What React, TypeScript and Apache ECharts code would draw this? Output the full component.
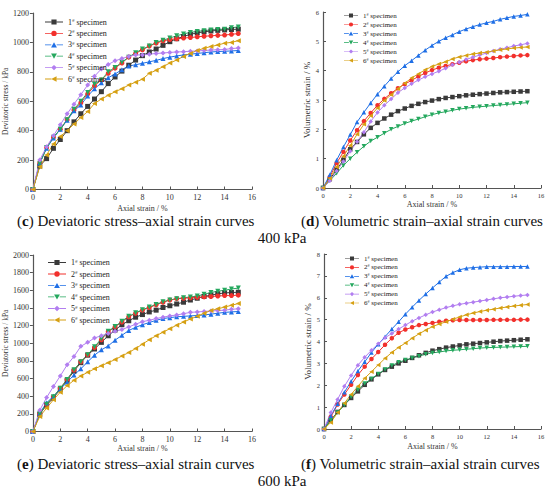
import React, { useEffect, useRef } from "react";
import * as echarts from "echarts";

const strain = [0, 0.5, 1, 1.5, 2, 2.5, 3, 3.5, 4, 4.5, 5, 5.5, 6, 6.5, 7, 7.5, 8, 8.5, 9, 9.5, 10, 10.5, 11, 11.5, 12, 12.5, 13, 13.5, 14, 14.5, 15];

const specimens = ["1# specimen", "2# specimen", "3# specimen", "4# specimen", "5# specimen", "6# specimen"];

// (c) 400 kPa deviatoric stress (kPa)
const dev400_1 = [0, 160, 210, 280, 340, 400, 460, 515, 565, 615, 665, 720, 765, 805, 845, 880, 910, 935, 955, 980, 1005, 1025, 1040, 1055, 1065, 1072, 1078, 1082, 1085, 1088, 1090];
const dev400_2 = [0, 180, 285, 355, 410, 475, 540, 590, 650, 705, 745, 790, 825, 860, 900, 925, 950, 975, 995, 1010, 1020, 1025, 1030, 1033, 1038, 1042, 1045, 1048, 1050, 1055, 1060];
const dev400_3 = [0, 180, 280, 350, 410, 470, 535, 575, 635, 685, 725, 760, 785, 815, 840, 848, 858, 868, 878, 890, 900, 908, 915, 920, 925, 930, 935, 938, 940, 942, 945];
const dev400_4 = [0, 175, 285, 355, 410, 475, 545, 600, 660, 715, 745, 800, 830, 865, 900, 930, 955, 975, 1000, 1015, 1030, 1045, 1058, 1068, 1075, 1080, 1085, 1088, 1090, 1100, 1105];
const dev400_5 = [0, 200, 290, 365, 440, 515, 580, 645, 710, 770, 820, 850, 875, 890, 905, 915, 915, 920, 925, 928, 932, 935, 937, 940, 942, 945, 948, 950, 952, 958, 962];
const dev400_6 = [0, 155, 235, 310, 360, 400, 445, 490, 530, 585, 615, 640, 665, 685, 710, 730, 750, 790, 810, 835, 860, 880, 905, 925, 945, 960, 972, 982, 995, 1000, 1012];

// (d) 400 kPa volumetric strain (%)
const vol400_1 = [0, 0.3, 0.62, 0.96, 1.32, 1.57, 1.83, 2.05, 2.22, 2.37, 2.5, 2.62, 2.71, 2.8, 2.87, 2.93, 2.98, 3.03, 3.07, 3.1, 3.13, 3.16, 3.18, 3.2, 3.22, 3.24, 3.26, 3.27, 3.28, 3.29, 3.3];
const vol400_2 = [0, 0.38, 0.85, 1.23, 1.62, 1.97, 2.28, 2.56, 2.82, 3.04, 3.23, 3.4, 3.54, 3.67, 3.8, 3.92, 4.02, 4.1, 4.16, 4.22, 4.27, 4.32, 4.36, 4.39, 4.41, 4.43, 4.46, 4.48, 4.5, 4.52, 4.53];
const vol400_3 = [0, 0.45, 0.95, 1.4, 1.82, 2.25, 2.58, 2.9, 3.2, 3.47, 3.73, 3.96, 4.17, 4.34, 4.52, 4.7, 4.86, 5.0, 5.12, 5.22, 5.33, 5.42, 5.5, 5.57, 5.63, 5.68, 5.75, 5.8, 5.85, 5.88, 5.92];
const vol400_4 = [0, 0.25, 0.5, 0.77, 1.0, 1.22, 1.42, 1.6, 1.73, 1.87, 2.0, 2.1, 2.2, 2.28, 2.35, 2.43, 2.5, 2.56, 2.6, 2.65, 2.69, 2.72, 2.75, 2.77, 2.79, 2.81, 2.83, 2.85, 2.87, 2.89, 2.91];
const vol400_5 = [0, 0.25, 0.58, 0.9, 1.25, 1.58, 1.9, 2.27, 2.57, 2.82, 3.03, 3.25, 3.41, 3.55, 3.68, 3.79, 3.89, 3.98, 4.08, 4.2, 4.29, 4.38, 4.46, 4.53, 4.6, 4.67, 4.73, 4.78, 4.84, 4.88, 4.93];
const vol400_6 = [0, 0.33, 0.72, 1.08, 1.45, 1.83, 2.17, 2.46, 2.73, 2.98, 3.18, 3.38, 3.57, 3.75, 3.89, 4.03, 4.14, 4.23, 4.3, 4.4, 4.47, 4.52, 4.57, 4.6, 4.63, 4.67, 4.71, 4.74, 4.77, 4.79, 4.81];

// (e) 600 kPa deviatoric stress (kPa)
const dev600_1 = [0, 195, 300, 380, 480, 580, 685, 780, 865, 935, 1010, 1085, 1150, 1210, 1255, 1295, 1325, 1355, 1375, 1405, 1425, 1445, 1465, 1490, 1510, 1530, 1545, 1560, 1570, 1575, 1578];
const dev600_2 = [0, 200, 305, 390, 490, 590, 695, 790, 870, 950, 1040, 1130, 1185, 1240, 1300, 1340, 1375, 1405, 1435, 1465, 1490, 1505, 1510, 1515, 1520, 1525, 1530, 1535, 1540, 1540, 1545];
const dev600_3 = [0, 210, 325, 400, 480, 560, 640, 710, 790, 865, 925, 970, 1035, 1090, 1145, 1180, 1210, 1235, 1260, 1280, 1290, 1300, 1305, 1310, 1315, 1320, 1330, 1340, 1350, 1355, 1360];
const dev600_4 = [0, 200, 310, 395, 490, 590, 700, 790, 870, 960, 1050, 1135, 1190, 1250, 1305, 1345, 1380, 1410, 1440, 1470, 1490, 1505, 1515, 1525, 1535, 1555, 1575, 1590, 1600, 1615, 1625];
const dev600_5 = [0, 240, 385, 510, 630, 755, 850, 965, 1010, 1060, 1085, 1110, 1135, 1155, 1185, 1215, 1245, 1260, 1280, 1295, 1310, 1320, 1335, 1350, 1355, 1360, 1365, 1370, 1375, 1385, 1390];
const dev600_6 = [0, 170, 265, 360, 445, 520, 580, 630, 670, 710, 745, 780, 815, 855, 895, 940, 990, 1040, 1085, 1125, 1165, 1205, 1240, 1275, 1305, 1340, 1370, 1390, 1410, 1430, 1450];

// (f) 600 kPa volumetric strain (%)
const vol600_1 = [0, 0.4, 0.78, 1.1, 1.42, 1.72, 2.02, 2.27, 2.5, 2.7, 2.85, 3.0, 3.12, 3.25, 3.37, 3.48, 3.58, 3.65, 3.72, 3.77, 3.82, 3.87, 3.9, 3.93, 3.96, 3.99, 4.02, 4.04, 4.06, 4.08, 4.1];
const vol600_2 = [0, 0.55, 1.12, 1.58, 2.02, 2.47, 2.85, 3.2, 3.52, 3.85, 4.15, 4.4, 4.55, 4.65, 4.75, 4.8, 4.85, 4.9, 4.95, 4.97, 4.98, 4.98, 4.98, 4.98, 4.98, 4.99, 4.99, 4.99, 4.99, 5.0, 5.0];
const vol600_3 = [0, 0.6, 1.15, 1.68, 2.18, 2.65, 3.07, 3.5, 3.88, 4.22, 4.57, 4.9, 5.25, 5.57, 5.88, 6.17, 6.45, 6.72, 6.98, 7.15, 7.28, 7.35, 7.38, 7.4, 7.42, 7.42, 7.42, 7.42, 7.43, 7.43, 7.43];
const vol600_4 = [0, 0.4, 0.75, 1.1, 1.48, 1.8, 2.08, 2.3, 2.52, 2.72, 2.9, 3.05, 3.15, 3.25, 3.33, 3.42, 3.48, 3.52, 3.57, 3.6, 3.62, 3.65, 3.67, 3.7, 3.72, 3.73, 3.74, 3.75, 3.76, 3.77, 3.78];
const vol600_5 = [0, 0.75, 1.35, 1.95, 2.45, 2.92, 3.28, 3.6, 3.9, 4.17, 4.37, 4.57, 4.75, 4.93, 5.08, 5.22, 5.35, 5.45, 5.55, 5.63, 5.7, 5.75, 5.8, 5.85, 5.9, 5.95, 6.0, 6.03, 6.07, 6.1, 6.13];
const vol600_6 = [0, 0.3, 0.75, 1.18, 1.58, 1.95, 2.32, 2.62, 2.93, 3.23, 3.5, 3.73, 3.93, 4.15, 4.35, 4.52, 4.68, 4.8, 4.9, 5.02, 5.12, 5.22, 5.3, 5.37, 5.43, 5.48, 5.53, 5.58, 5.62, 5.66, 5.69];

const panelSeries = [
  [dev400_1, dev400_2, dev400_3, dev400_4, dev400_5, dev400_6],
  [vol400_1, vol400_2, vol400_3, vol400_4, vol400_5, vol400_6],
  [dev600_1, dev600_2, dev600_3, dev600_4, dev600_5, dev600_6],
  [vol600_1, vol600_2, vol600_3, vol600_4, vol600_5, vol600_6],
];

const yMax = [1200, 6, 2000, 8];
const yStep = [200, 1, 200, 1];
const yNames = ["Deviatoric stress / kPa", "Volumetric strain / %", "Deviatoric stress / kPa", "Volumetric strain / %"];
const xName = "Axial strain / %";
const captions = [
  ["c", " Deviatoric stress–axial strain curves"],
  ["d", " Volumetric strain–axial strain curves"],
  ["e", " Deviatoric stress–axial strain curves"],
  ["f", " Volumetric strain–axial strain curves"],
];
const pressures = ["400 kPa", "600 kPa"];

const colors = ["#3a3a3a", "#f2302c", "#1f6fe6", "#25a85e", "#b27ef0", "#d6a013"];
const symbols = ["rect", "circle", "triangle", "triangle", "diamond", "triangle"];
const rotations = [0, 0, 0, 180, 0, 90];

// legend icons: a line with the marker in its middle (16 x 6 box)
const LINE_L = "M0,2.6 H5.6 V3.4 H0 Z ";
const LINE_R = "M10.4,2.6 H16 V3.4 H10.4 Z ";
const legendIcons = [
  "path://" + LINE_L + LINE_R + "M5.7,0.8 H10.3 V5.2 H5.7 Z",
  "path://" + LINE_L + LINE_R + "M5.6,3 A2.4,2.4 0 1,1 10.4,3 A2.4,2.4 0 1,1 5.6,3 Z",
  "path://" + LINE_L + LINE_R + "M8,0.6 L10.6,5.2 L5.4,5.2 Z",
  "path://" + LINE_L + LINE_R + "M5.4,0.8 L10.6,0.8 L8,5.4 Z",
  "path://" + LINE_L + LINE_R + "M8,0.6 L10.5,3 L8,5.4 L5.5,3 Z",
  "path://" + LINE_L + LINE_R + "M5.5,3 L10.3,0.6 L10.3,5.4 Z",
];

const SERIF = "Liberation Serif";

export default function App() {
  const ref = useRef<HTMLDivElement>(null);
  useEffect(() => {
    document.body.style.margin = "0";
    if (!ref.current) return;
    const chart = echarts.init(ref.current, null, { renderer: "svg" });

    const grids = [
      { left: 32, top: 13, width: 220, height: 176.5 },
      { left: 323, top: 12, width: 218, height: 176 },
      { left: 32, top: 255, width: 220, height: 176.5 },
      { left: 324, top: 254, width: 217, height: 175 },
    ];
    const small = [false, true, false, true];
    const legendPos = [
      { left: 40, top: 13, gap: 3.4 },
      { left: 339, top: 7, gap: 2.0 },
      { left: 43, top: 253.5, gap: 3.5 },
      { left: 340, top: 250, gap: 1.9 },
    ];
    const xNameGap = [14.5, 12, 13, 13];
    const yNameGap = [19, 9.5, 21, 8.5];

    const axisLine = { show: true, lineStyle: { color: "#555", width: 1.2 } };
    const plain = (v: number) => String(v);

    const xAxis = grids.map((_, i) => ({
      type: "value",
      gridIndex: i,
      min: 0,
      max: 16,
      interval: 2,
      name: xName,
      nameLocation: "middle",
      nameGap: xNameGap[i],
      nameTextStyle: { fontFamily: SERIF, fontSize: 8, color: "#333" },
      axisLine,
      axisTick: { show: true, inside: true, length: 3, lineStyle: { color: "#555" } },
      axisLabel: { fontFamily: SERIF, fontSize: small[i] ? 6.5 : 8, color: "#333", margin: 4, formatter: plain },
      splitLine: { show: false },
    }));

    const yAxis = grids.map((_, i) => ({
      type: "value",
      gridIndex: i,
      min: 0,
      max: yMax[i],
      interval: yStep[i],
      name: yNames[i],
      nameLocation: "middle",
      nameGap: yNameGap[i],
      nameTextStyle: { fontFamily: SERIF, fontSize: small[i] ? 9 : 7.5, color: "#333" },
      axisLine,
      axisTick: { show: true, inside: small[i], length: 3, lineStyle: { color: "#555" } },
      axisLabel: { fontFamily: SERIF, fontSize: small[i] ? 6.5 : 8, color: "#333", margin: 4, formatter: plain },
      splitLine: { show: false },
    }));

    const series: any[] = [];
    panelSeries.forEach((group, p) => {
      group.forEach((vals, s) => {
        series.push({
          type: "line",
          name: specimens[s],
          xAxisIndex: p,
          yAxisIndex: p,
          data: strain.map((x, k) => [x, vals[k]]),
          symbol: symbols[s],
          symbolRotate: rotations[s],
          symbolSize: small[p] ? 4.5 : 5,
          showAllSymbol: true,
          lineStyle: { color: colors[s], width: 1 },
          itemStyle: { color: colors[s] },
          z: 2,
        });
      });
    });

    const legend = legendPos.map((lp, i) => ({
      orient: "vertical",
      left: lp.left,
      top: lp.top,
      itemGap: lp.gap,
      itemWidth: small[i] ? 14 : 18,
      itemHeight: small[i] ? 5.3 : 6.75,
      data: specimens.map((n, k) => ({ name: n, icon: legendIcons[k] })),
      formatter: (name: string) => `{a|${name.split("#")[0]}}{s|#}{a|${name.split("#")[1]}}`,
      textStyle: {
        fontFamily: SERIF,
        fontSize: small[i] ? 7 : 8,
        color: "#222",
        rich: {
          a: { fontFamily: SERIF, fontSize: small[i] ? 7 : 8, color: "#222" },
          s: { fontFamily: SERIF, fontSize: small[i] ? 4 : 5, color: "#222", verticalAlign: "top" },
        },
      },
    }));

    const capPos = [
      { x: 17, y: 221 },
      { x: 301, y: 221 },
      { x: 17, y: 464 },
      { x: 301, y: 464 },
    ];
    const graphic: any[] = captions.map((c, i) => ({
      type: "text",
      x: capPos[i].x,
      y: capPos[i].y,
      style: {
        text: `{n|(}{b|${c[0]}}{n|)${c[1]}}`,
        fontFamily: SERIF,
        fontSize: 15,
        fill: "#111",
        verticalAlign: "middle",
        rich: {
          n: { fontFamily: SERIF, fontSize: 15, fill: "#111" },
          b: { fontFamily: SERIF, fontSize: 15, fontWeight: "bold", fill: "#111" },
        },
      },
    }));
    pressures.forEach((p, i) => {
      graphic.push({
        type: "text",
        x: 282,
        y: i === 0 ? 238 : 481,
        style: { text: p, fontFamily: SERIF, fontSize: 15, fill: "#111", align: "center", verticalAlign: "middle" },
      });
    });

    chart.setOption({
      animation: false,
      backgroundColor: "#fff",
      grid: grids,
      xAxis,
      yAxis,
      legend,
      series,
      graphic,
    });
    return () => chart.dispose();
  }, []);
  return <div ref={ref} style={{ width: 550, height: 493 }} />;
}
